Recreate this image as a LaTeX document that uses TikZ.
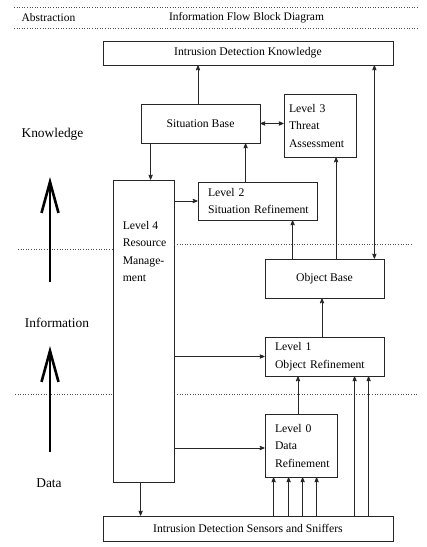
\documentclass[tikz,border=0pt]{standalone}
\usepackage{fontspec}
\setmainfont{Liberation Serif}
\usepackage{tikz}
\usetikzlibrary{arrows,arrows.meta,positioning}
\tikzset{>=stealth',auto}
\tikzset{
    blk/.style={draw=black!85,line width=0.8pt,fill=white,inner xsep=10pt,
        align=left,font=\fontsize{11.7}{17.5}\selectfont},
    ctr/.style={blk,align=center},
    lbl/.style={inner sep=0pt,font=\fontsize{11.5}{17.5}\selectfont},
    bigl/.style={inner sep=0pt,font=\fontsize{13.4}{16}\selectfont},
    flow/.style={->,draw=black!85,line width=0.8pt},
    sep/.style={dotted,draw=black!70,line width=0.6pt},
    level/.style={line width=2.6pt,-{Straight Barb[length=31pt,width=17pt,line width=2.6pt]}}
}

\begin{document}
\begin{tikzpicture}[x=1pt,y=-1pt]
    \useasboundingbox (0,0) rectangle (427,547);
    % header
    \draw[sep] (14,7) -- (418,7);
    \draw[sep] (14,28) -- (418,28);
    \node[lbl] (abstr) at (48.5,18) {Abstraction};
    \node[lbl] (title) at (246.5,18) {Information Flow Block Diagram};

    % blocks
    \node[ctr,minimum width=290pt,minimum height=24pt] (idk) at (248,53) {Intrusion Detection Knowledge};
    \node[ctr,minimum width=119pt,minimum height=39pt] (sitb) at (200.5,123.5) {Situation Base};
    \node[blk,inner xsep=5pt,text width=62pt,minimum height=63pt] (l3) at (320,125.5) {Level 3\\Threat\\Assessment};
    \node[blk,minimum width=61pt,minimum height=302pt] (l4) at (143.5,331) {};
    \node[lbl,anchor=north west,align=left,font=\fontsize{11.7}{17.5}\selectfont] (l4txt) at ([xshift=10pt,yshift=-41.5pt]l4.north west) {Level 4\\Resource\\Manage-\\ment};
    \node[blk,text width=99pt,minimum height=38pt] (l2) at (257.5,201) {Level 2\\\mbox{Situation Refinement}};
    \node[ctr,minimum width=119pt,minimum height=39pt] (objb) at (324.5,278.5) {Object Base};
    \node[blk,text width=99pt,minimum height=39pt] (l1) at (324.5,356.5) {Level 1\\\mbox{Object Refinement}};
    \node[blk,text width=52pt,minimum height=63pt] (l0) at (301,445.5) {Level 0\\Data\\Refinement};
    \node[ctr,minimum width=290pt,minimum height=25pt] (sens) at (248,528.5) {Intrusion Detection Sensors and Sniffers};

    % separators
    \draw[sep] (18,249) -- (18,249 -| l4.west);
    \draw[sep] (l4.east |- 0,244) -- (413,244);
    \draw[sep] (15,394) -- (15,394 -| l4.west);
    \draw[sep] (l4.east |- 0,394) -- (417,394);

    % abstraction levels
    \node[bigl] (know) at (52.5,134) {Knowledge};
    \node[bigl] (info) at (57,323) {Information};
    \node[bigl] (data) at (49,483) {Data};
    \draw[level] (50,282) -- (50,177);
    \draw[level] (50,452) -- (50,346);

    % flows
    \draw[flow] ([xshift=-2.5pt]sitb.north) -- ([xshift=-2.5pt]sitb.north |- idk.south);
    \draw[flow,<->] ([xshift=-10pt]objb.north east) -- ([xshift=-10pt]objb.north east |- idk.south);
    \draw[flow,<->] (sitb.east) -- (sitb.east -| l3.west);
    \draw[flow] ([xshift=10pt]sitb.south west) -- ([xshift=10pt]sitb.south west |- l4.north);
    \draw[flow] (l4.east |- l2.west) -- (l2.west);
    \draw[flow] ([xshift=48pt]l2.north west) -- ([xshift=48pt]l2.north west |- sitb.south);
    \draw[flow] ([xshift=28pt]objb.north west) -- ([xshift=28pt]objb.north west |- l2.south);
    \draw[flow] ([xshift=71.5pt]objb.north west) -- ([xshift=71.5pt]objb.north west |- l3.south);
    \draw[flow] ([xshift=-2.5pt]l1.north) -- ([xshift=-2.5pt]l1.north |- objb.south);
    \draw[flow] (l4.east |- l1.west) -- (l1.west);
    \draw[flow] ([xshift=-3pt]l0.north) -- ([xshift=-3pt]l0.north |- l1.south);
    \draw[flow] ([yshift=-2.5pt]l4.east |- l0.west) -- ([yshift=-2.5pt]l0.west);
    \draw[flow] ([xshift=28pt]l4.south west) -- ([xshift=28pt]l4.south west |- sens.north);
    \foreach \dx in {9,24,38,52}
        \draw[flow] ([xshift=\dx pt]l0.south west |- sens.north) -- ([xshift=\dx pt]l0.south west);
    \foreach \dx in {90,104}
        \draw[flow] ([xshift=\dx pt]l1.south west |- sens.north) -- ([xshift=\dx pt]l1.south west);
\end{tikzpicture}
\end{document}
